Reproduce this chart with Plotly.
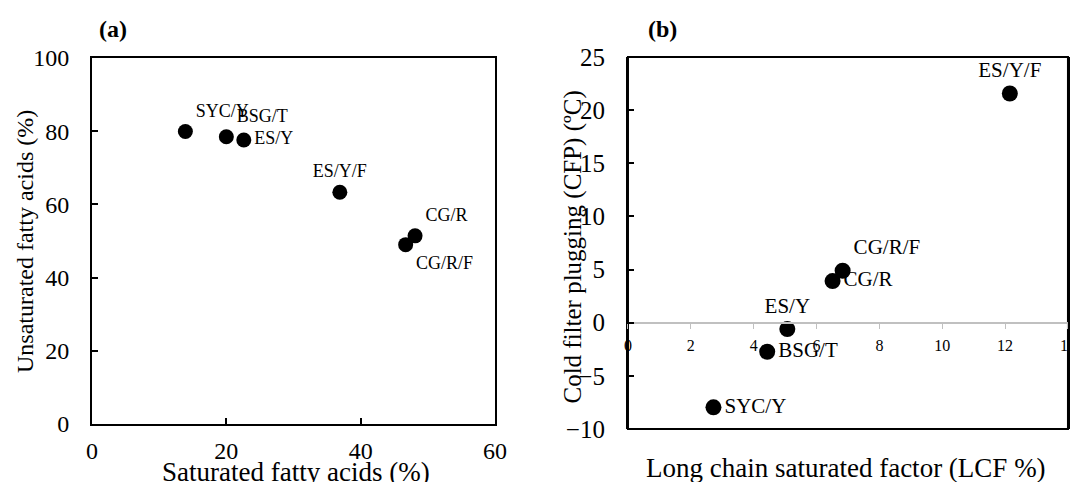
import plotly.graph_objects as go

# Panel (a)
labels_a = ["SYC/Y", "BSG/T", "ES/Y", "ES/Y/F", "CG/R", "CG/R/F"]
sfa = [13.9, 20.0, 22.6, 36.9, 48.1, 46.7]
ufa = [79.9, 78.5, 77.6, 63.3, 51.4, 49.0]
pos_a = ["top right", "top right", "middle right", "top center", "top right", "bottom right"]

# Panel (b)
labels_b = ["SYC/Y", "BSG/T", "ES/Y", "CG/R", "CG/R/F", "ES/Y/F"]
lcf = [2.72, 4.43, 5.07, 6.51, 6.83, 12.15]
cfpp = [-7.96, -2.73, -0.6, 3.92, 4.89, 21.57]
pos_b = ["middle right", "middle right", "top center", "middle right", "top right", "top center"]

FONT = "Liberation Serif, Times New Roman, serif"

fig = go.Figure()
fig.add_trace(go.Scatter(
    x=sfa, y=ufa, mode="markers+text", text=labels_a, textposition=pos_a,
    marker=dict(color="black", size=15), textfont=dict(family=FONT, size=18, color="black"),
    xaxis="x", yaxis="y", showlegend=False, cliponaxis=False))
fig.add_trace(go.Scatter(
    x=lcf, y=cfpp, mode="markers+text", text=labels_b, textposition=pos_b,
    marker=dict(color="black", size=16), textfont=dict(family=FONT, size=21, color="black"),
    xaxis="x2", yaxis="y2", showlegend=False, cliponaxis=False))

fig.update_layout(
    width=1070, height=482, margin=dict(l=0, r=0, t=0, b=0, autoexpand=False),
    paper_bgcolor="white", plot_bgcolor="white",
    font=dict(family=FONT, color="black"),
    xaxis=dict(domain=[0.0860, 0.4626], range=[0, 60], dtick=20, anchor="y",
               showline=True, mirror=True, linecolor="black", linewidth=2,
               ticks="inside", ticklen=6, tickcolor="black", tickwidth=1.5,
               showgrid=False, zeroline=False, automargin=False, ticklabelstandoff=4,
               ticklabeloverflow="allow",
               tickfont=dict(family=FONT, size=24, color="black")),
    yaxis=dict(domain=[0.1203, 0.8797], range=[0, 100], dtick=20, anchor="x",
               showline=True, mirror=True, linecolor="black", linewidth=2,
               ticks="inside", ticklen=6, tickcolor="black", tickwidth=1.5,
               showgrid=False, zeroline=False, automargin=False, ticklabelstandoff=16,
               ticklabeloverflow="allow",
               tickfont=dict(family=FONT, size=24, color="black")),
    xaxis2=dict(domain=[0.5869, 0.9981], range=[0, 14], dtick=2, anchor="free", position=0.3299,
                showline=True, linecolor="#c0c0c0", linewidth=2,
                ticks="outside", ticklen=5, tickcolor="#c0c0c0",
                showgrid=False, zeroline=False, automargin=False, ticklabelstandoff=3,
                ticklabeloverflow="allow",
                tickfont=dict(family=FONT, size=16, color="black")),
    yaxis2=dict(domain=[0.1100, 0.8817], range=[-10, 25], dtick=5, anchor="x2",
                showline=True, mirror=True, linecolor="black", linewidth=2,
                ticks="inside", ticklen=6, tickcolor="black", tickwidth=1.5,
                showgrid=False, zeroline=False, automargin=False, ticklabelstandoff=16,
                ticklabeloverflow="allow",
                tickfont=dict(family=FONT, size=25, color="black")),
    shapes=[dict(type="rect", xref="x2 domain", yref="y2 domain", x0=0, x1=1, y0=0, y1=1,
                 line=dict(color="black", width=2), fillcolor="rgba(0,0,0,0)", layer="below")],
)

ann_common = dict(xref="paper", yref="paper", showarrow=False, xanchor="center", yanchor="middle")
anns = [
    dict(text="<b>(a)</b>", x=0.1056, y=0.94, font=dict(family=FONT, size=24, color="black")),
    dict(text="<b>(b)</b>", x=0.6187, y=0.94, font=dict(family=FONT, size=24, color="black")),
    dict(text="Saturated fatty acids (%)", x=0.2766, y=0.0207, font=dict(family=FONT, size=27, color="black")),
    dict(text="Unsaturated fatty acids (%)", x=0.0234, y=0.498, textangle=-90,
         font=dict(family=FONT, size=24, color="black")),
    dict(text="Cold filter plugging (CFP) (ºC)", x=0.5346, y=0.4865, textangle=-90,
         font=dict(family=FONT, size=25, color="black")),
    dict(text="Long chain saturated factor (LCF %)", x=0.7907, y=0.029,
         font=dict(family=FONT, size=27, color="black")),
]
for a in anns:
    fig.add_annotation(**ann_common, **a)

fig.write_html("out.html")
